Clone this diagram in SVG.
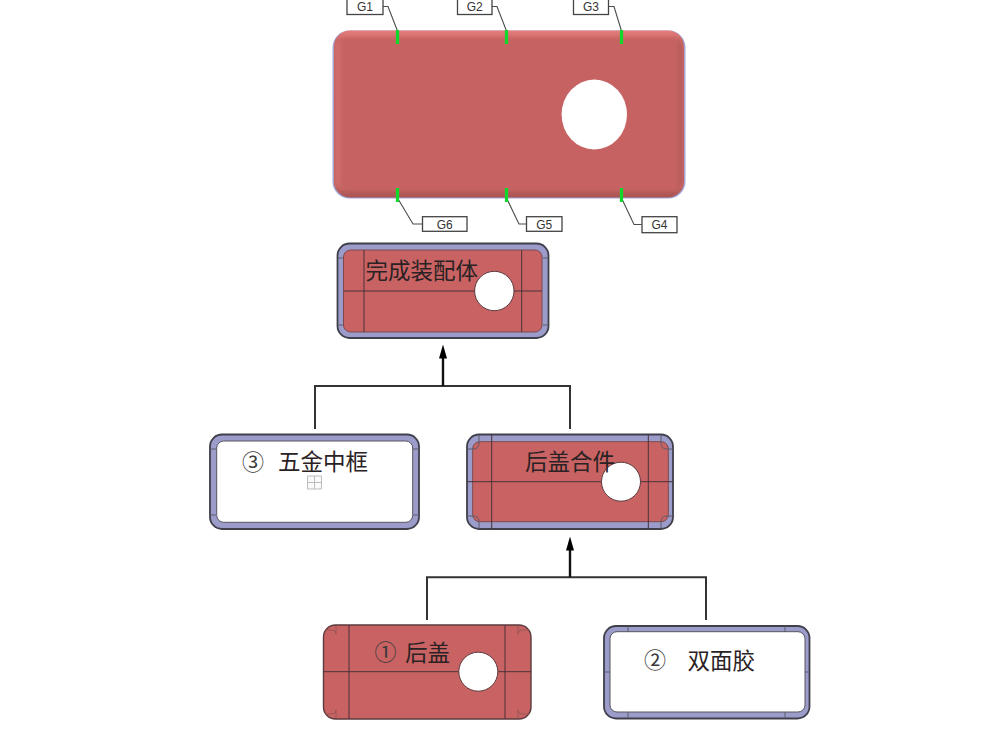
<svg xmlns="http://www.w3.org/2000/svg" width="1006" height="736" viewBox="0 0 1006 736">
<defs>
<filter id="soft" x="-5%" y="-5%" width="110%" height="110%"><feGaussianBlur stdDeviation="0.55"/></filter>
<filter id="softer" x="-5%" y="-5%" width="110%" height="110%"><feGaussianBlur stdDeviation="1.6"/></filter>
<marker id="arrow" markerUnits="userSpaceOnUse" markerWidth="15" markerHeight="9" refX="0.5" refY="4.5" orient="auto"><path d="M0 0.5L14 4.5L0 8.5Z" fill="#000"/></marker>
<linearGradient id="bodyV" x1="0" y1="0" x2="0" y2="1"><stop offset="0" stop-color="#e67f7c"/><stop offset="0.06" stop-color="#c96664"/><stop offset="0.93" stop-color="#c66361"/><stop offset="1" stop-color="#a85452"/></linearGradient>
<linearGradient id="bodyH" x1="0" y1="0" x2="1" y2="0"><stop offset="0" stop-color="#d27270"/><stop offset="0.02" stop-color="#c66362"/><stop offset="0.98" stop-color="#c66362"/><stop offset="1" stop-color="#b05a5a"/></linearGradient>
</defs>
<style>
.frame{fill:#9c9ccb;stroke:#3f3f4c;stroke-width:1.8}
.thinframe{fill:#fff;stroke:#55555f;stroke-width:1}
.red{fill:#c96463;stroke:#7d4a4e;stroke-width:1}
.edge{stroke:#4a3038;stroke-width:1;fill:none}
.corner{stroke:#5a5a6a;stroke-width:1;fill:none}
.hole{fill:#fff;stroke:#5a3a3e;stroke-width:1}
.cn{font-family:"Noto Sans CJK SC","Liberation Sans",sans-serif;font-size:22.5px;fill:#2a2224}
.num{font-family:"Noto Sans CJK SC","Liberation Sans",sans-serif;font-size:22px;fill:#3a3a3a}
.tag{font-family:"Liberation Sans",sans-serif;font-size:12px;fill:#333;text-anchor:middle}
.tagbox{fill:#fff;stroke:#444;stroke-width:1.3}
.tick{stroke:#11d92c;stroke-width:3.2;fill:none}
.leader{stroke:#4c4c4c;stroke-width:1.1;fill:none}
.link{stroke:#333;stroke-width:2;fill:none}
.shaft{stroke:#111;stroke-width:2.4;fill:none;marker-end:url(#arrow)}
.grid{stroke:#bdbdbd;stroke-width:1;fill:#fafafa}
</style>
<rect width="1006" height="736" fill="#fff"/>

<g id="connectors">
<path class="link" d="M315 429V386H570V429"/>
<path class="shaft" d="M443 386V358"/>
<path class="link" d="M427 620V577.3H706V620"/>
<path class="shaft" d="M570 577V550"/>
<path class="leader" d="M382.7 6.5H388L397.5 31"/>
<path class="leader" d="M492 6.5H497L506.5 31"/>
<path class="leader" d="M608.7 6.5H614L621.5 31"/>
<path class="leader" d="M422.3 224H413L397.5 198"/>
<path class="leader" d="M526.3 224H519L506.5 198"/>
<path class="leader" d="M641.7 224.5H634L621.5 198"/>
</g>

<g id="main-part">
<rect x="332.5" y="30.5" width="353" height="168" rx="17" fill="#a3a6d6" filter="url(#soft)"/>
<rect x="334" y="30.5" width="350" height="167" rx="16" fill="url(#bodyV)" filter="url(#soft)"/>
<rect x="336" y="38" width="346" height="152" rx="9" fill="url(#bodyH)" filter="url(#softer)"/>
<ellipse cx="594.3" cy="114.5" rx="32.7" ry="35" fill="#fff"/>
<path class="tick" d="M397.5 30V44M506.5 30V44M621.5 30V44M397.5 188V202M506.5 188V202M621.5 188V202"/>
</g>

<g id="tag-g1"><rect class="tagbox" x="347" y="-1" width="36" height="15.5"/><text class="tag" x="365" y="11">G1</text></g>
<g id="tag-g2"><rect class="tagbox" x="457.5" y="-1" width="34.5" height="15.5"/><text class="tag" x="474.7" y="11">G2</text></g>
<g id="tag-g3"><rect class="tagbox" x="573.5" y="-1" width="35" height="15.5"/><text class="tag" x="591" y="11">G3</text></g>
<g id="tag-g6"><rect class="tagbox" x="422.5" y="216.7" width="44.5" height="14.6"/><text class="tag" x="444.7" y="228.5">G6</text></g>
<g id="tag-g5"><rect class="tagbox" x="526.5" y="216.7" width="35.5" height="14.6"/><text class="tag" x="544.2" y="228.5">G5</text></g>
<g id="tag-g4"><rect class="tagbox" x="642" y="216.7" width="35" height="16"/><text class="tag" x="659.5" y="229">G4</text></g>

<g id="assembly">
<g filter="url(#soft)">
<rect class="frame" x="337.5" y="243.5" width="211" height="94.5" rx="12"/>
<rect class="red" x="343.5" y="250" width="198.5" height="82" rx="7"/>
<path class="edge" d="M364 250V332M521.7 250V332M343.5 291H542"/>
<path class="corner" stroke-width="2" d="M338 258H343M338 325H343M543 258H548M543 325H548"/>
<circle class="hole" cx="494.3" cy="291" r="19.7"/>
</g>
<text class="cn" x="365.5" y="279">完成装配体</text>
</g>

<g id="frame-part">
<g filter="url(#soft)">
<rect class="frame" x="210" y="434.5" width="209" height="94.5" rx="12"/>
<rect class="thinframe" x="216.7" y="441" width="196" height="81.3" rx="7"/>
<path class="corner" d="M210 449H216M210 515H216M413 449H419M413 515H419"/>
</g>
<text class="num" x="242" y="470">③</text>
<text class="cn" x="278" y="470">五金中框</text>
<path class="grid" d="M307.5 476H321.5V489H307.5ZM307.5 482.5H321.5M314.5 476V489"/>
</g>

<g id="cover-sub">
<g filter="url(#soft)">
<rect class="frame" x="467" y="434.5" width="206" height="94.5" rx="12"/>
<rect class="red" x="472.7" y="441.7" width="195.6" height="80" rx="7" stroke="none"/>
<path class="edge" d="M491.7 435V529M648.3 435V529M467 481.7H673"/>
<path class="corner" d="M467 449H473Q479 449 479 443V435M673 449H667Q661 449 661 443V435M467 516H473Q479 516 479 522V529M673 516H667Q661 516 661 522V529"/>
<circle class="hole" cx="621" cy="481.7" r="19.5"/>
</g>
<text class="cn" x="525" y="470">后盖合件</text>
</g>

<g id="back-cover">
<g filter="url(#soft)">
<rect x="323.5" y="625" width="207.5" height="94" rx="12" fill="#c96463" stroke="#5a3a3e" stroke-width="1.4"/>
<path class="edge" d="M349 625V719M505 625V719M323.5 671.7H531"/>
<path stroke="#9a5358" fill="none" d="M325 630H332Q336 630 336 634V626M529 630H522Q518 630 518 634V626M325 714H332Q336 714 336 710V718M529 714H522Q518 714 518 710V718"/>
<circle class="hole" cx="478.3" cy="671.7" r="19.5"/>
</g>
<text class="num" x="374.5" y="660">①</text>
<text class="cn" x="405" y="661">后盖</text>
</g>

<g id="adhesive">
<g filter="url(#soft)">
<rect class="frame" x="604" y="626" width="205.5" height="92.5" rx="12"/>
<rect class="thinframe" x="610" y="631.7" width="195" height="80.3" rx="7"/>
<path class="corner" d="M628 626V632M785 626V632M628 712V718M785 712V718M604 672H610M805 672H809"/>
</g>
<text class="num" x="644" y="668">②</text>
<text class="cn" x="687.5" y="669">双面胶</text>
</g>
</svg>
